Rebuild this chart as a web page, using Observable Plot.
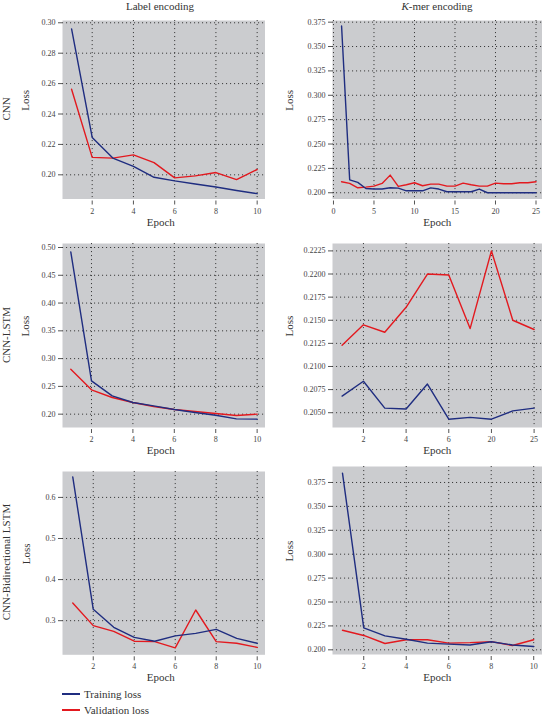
<!DOCTYPE html>
<html><head><meta charset="utf-8">
<script src="https://cdn.jsdelivr.net/npm/d3@7"></script>
<script src="https://cdn.jsdelivr.net/npm/@observablehq/plot@0.6"></script>
<style>
body{margin:0;background:#fff;}
#root{position:relative;width:544px;height:717px;overflow:hidden;font-family:"Liberation Serif","DejaVu Serif",serif;color:#333;background:#fff;}
#root svg{position:absolute;overflow:visible;}
.t{position:absolute;font-size:11px;white-space:nowrap;transform:translate(-50%,-50%);}
.r{position:absolute;font-size:11px;white-space:nowrap;transform:translate(-50%,-50%) rotate(-90deg);}
.lg{position:absolute;font-size:11px;line-height:12px;white-space:nowrap;transform:translateY(-50%);}
.ll{position:absolute;width:18px;height:1.5px;}
</style></head><body><div id="root"></div>
<script>
// ---- data ----
const epochs10 = [1,2,3,4,5,6,7,8,9,10];
const epochs25 = d3.range(1, 26);
const seriesNames = ["Training loss", "Validation loss"];
const seriesColors = ["#1f2d80", "#e3191f"];
const columnTitles = ["Label encoding", "K-mer encoding"];
const rowTitles = ["CNN", "CNN-LSTM", "CNN-Bidirectional LSTM"];

const cnnLabelTrain = [0.296, 0.2246, 0.211, 0.2056, 0.1984, 0.196, 0.194, 0.192, 0.1897, 0.1876];
const cnnLabelVal   = [0.2563, 0.2115, 0.211, 0.2131, 0.208, 0.198, 0.1993, 0.2015, 0.1969, 0.2035];

const cnnKmerTrain = [0.371, 0.2133, 0.2106, 0.2044, 0.2038, 0.2038, 0.2051, 0.2048, 0.202, 0.202,
                      0.202, 0.205, 0.2038, 0.201, 0.201, 0.201, 0.201, 0.2038, 0.200, 0.200,
                      0.200, 0.200, 0.200, 0.200, 0.200];
const cnnKmerVal   = [0.2113, 0.2096, 0.2051, 0.2058, 0.2068, 0.2096, 0.2181, 0.2065, 0.2082, 0.2103,
                      0.2072, 0.2089, 0.2089, 0.2068, 0.2068, 0.2099, 0.2082, 0.2068, 0.2068, 0.2099,
                      0.2092, 0.2092, 0.2103, 0.2103, 0.2113];

const lstmLabelTrain = [0.4922, 0.26, 0.233, 0.221, 0.215, 0.2084, 0.203, 0.198, 0.1916, 0.191];
const lstmLabelVal   = [0.281, 0.2438, 0.23, 0.221, 0.2138, 0.2084, 0.2048, 0.2012, 0.1976, 0.200];

const lstmKmerTrain = [0.2068, 0.2084, 0.2055, 0.2054, 0.2081, 0.2043, 0.2045, 0.2043, 0.2052, 0.2055];
const lstmKmerVal   = [0.2123, 0.2145, 0.2137, 0.2164, 0.2200, 0.2199, 0.2141, 0.2225, 0.2150, 0.2140];
const lstmKmerTickLabels = ["2", "4", "6", "20", "25"];

const bilstmLabelTrain = [0.650, 0.3276, 0.284, 0.2595, 0.250, 0.263, 0.269, 0.279, 0.257, 0.245];
const bilstmLabelVal   = [0.343, 0.288, 0.274, 0.250, 0.249, 0.234, 0.326, 0.249, 0.245, 0.235];

const bilstmKmerTrain = [0.3848, 0.223, 0.2146, 0.211, 0.207, 0.206, 0.205, 0.2085, 0.205, 0.2035];
const bilstmKmerVal   = [0.2205, 0.215, 0.2066, 0.2105, 0.2105, 0.207, 0.2075, 0.2085, 0.2045, 0.2105];

const ticks10 = [2,4,6,8,10];
const ticks25 = [0,5,10,15,20,25];

// ---- panels ----
const panels = [
  {ep: epochs10, tr: cnnLabelTrain, va: cnnLabelVal, g:[62,264.5,20,198.5], xd:[0.56,10.38], yd:[0.1841,0.3015],
   xt: ticks10, xf: d3.format("d"), yt: d3.range(0.20,0.3001,0.02), yf: d3.format(".2f"), lossX: 25},
  {ep: epochs25, tr: cnnKmerTrain, va: cnnKmerVal, g:[332,541.5,20,198.5], xd:[-0.12,25.74], yd:[0.1936,0.3767],
   xt: ticks25, xf: d3.format("d"), yt: d3.range(0.200,0.3751,0.025), yf: d3.format(".3f"), lossX: 289},
  {ep: epochs10, tr: lstmLabelTrain, va: lstmLabelVal, g:[62,264.5,242.7,426.7], xd:[0.6,10.38], yd:[0.176,0.5072],
   xt: ticks10, xf: d3.format("d"), yt: d3.range(0.20,0.5001,0.05), yf: d3.format(".2f"), lossX: 25},
  {ep: epochs10, tr: lstmKmerTrain, va: lstmKmerVal, g:[332,541.5,242.7,426.7], xd:[0.55,10.37], yd:[0.2034,0.2233],
   xt: ticks10, xf: (d) => lstmKmerTickLabels[ticks10.indexOf(d)], yt: d3.range(0.2050,0.22251,0.0025), yf: d3.format(".4f"), lossX: 289},
  {ep: epochs10, tr: bilstmLabelTrain, va: bilstmLabelVal, g:[62,264.5,470.7,654], xd:[0.5,10.38], yd:[0.217,0.663],
   xt: ticks10, xf: d3.format("d"), yt: [0.3,0.4,0.5,0.6], yf: d3.format(".1f"), lossX: 26},
  {ep: epochs10, tr: bilstmKmerTrain, va: bilstmKmerVal, g:[332,541.5,466,654], xd:[0.53,10.39], yd:[0.1951,0.3917],
   xt: ticks10, xf: d3.format("d"), yt: d3.range(0.200,0.3751,0.025), yf: d3.format(".3f"), lossX: 289}
];

const root = document.getElementById("root");
const mL = 52, mR = 6, mT = 6, mB = 40, gap = 2;

for (const p of panels) {
  const [gx0, gx1, gy0, gy1] = p.g;
  const w = gx1 - gx0, h = gy1 - gy0;
  const yd = [p.yd[0] - gap * (p.yd[1] - p.yd[0]) / h, p.yd[1]];
  const rows = [];
  p.ep.forEach((e, i) => rows.push({epoch: e, loss: p.va[i], s: seriesNames[1]}));
  p.ep.forEach((e, i) => rows.push({epoch: e, loss: p.tr[i], s: seriesNames[0]}));
  const grid = {stroke: "#3a3a3a", strokeOpacity: 1, strokeWidth: 1, strokeDasharray: "1.1,2.9"};
  const chart = Plot.plot({
    width: w + mL + mR,
    height: h + gap + mT + mB,
    marginLeft: mL, marginRight: mR, marginTop: mT, marginBottom: mB,
    style: {fontFamily: "Liberation Serif, DejaVu Serif, serif", fontSize: "8px", color: "#444", background: "transparent"},
    x: {domain: p.xd},
    y: {domain: yd},
    color: {domain: seriesNames, range: seriesColors},
    marks: [
      Plot.frame({fill: "#cbcccf", stroke: null, insetBottom: gap}),
      Plot.gridX(p.xt, {...grid, insetBottom: gap}),
      Plot.gridY(p.yt, grid),
      Plot.line(rows, {x: "epoch", y: "loss", z: "s", stroke: "s", strokeWidth: 1.4}),
      Plot.axisX(p.xt, {tickSize: 4, tickPadding: 3, tickFormat: p.xf, stroke: "#555", fill: "#444", fontSize: 8, label: null}),
      Plot.axisY(p.yt, {tickSize: 4, tickPadding: 3, tickFormat: p.yf, stroke: "#555", fill: "#444", fontSize: 8, label: null}),
      Plot.text(["Epoch"], {frameAnchor: "bottom", dy: 24.5, dx: gx0 < 100 ? -3 : 0, text: (d) => d, fontSize: 11, fill: "#333"}),
      Plot.text(["Loss"], {frameAnchor: "left", dx: p.lossX - gx0, rotate: -90, text: (d) => d, fontSize: 11, fill: "#333"})
    ]
  });
  chart.style.left = (gx0 - mL) + "px";
  chart.style.top = (gy0 - mT) + "px";
  root.appendChild(chart);
}

// column titles
const ct1 = document.createElement("div");
ct1.className = "t"; ct1.style.left = "160px"; ct1.style.top = "6px";
ct1.textContent = columnTitles[0];
root.appendChild(ct1);
const ct2 = document.createElement("div");
ct2.className = "t"; ct2.style.left = "437px"; ct2.style.top = "6px";
ct2.innerHTML = "<i>K</i>" + columnTitles[1].slice(1);
root.appendChild(ct2);

// row titles
const rowY = [109, 335, 562];
rowTitles.forEach((t, i) => {
  const d = document.createElement("div");
  d.className = "r"; d.style.left = "6px"; d.style.top = rowY[i] + "px";
  d.textContent = t;
  root.appendChild(d);
});

// legend
const legY = [694, 710];
seriesNames.forEach((n, i) => {
  const l = document.createElement("div");
  l.className = "ll"; l.style.left = "62px"; l.style.top = (legY[i] - 0.75) + "px";
  l.style.background = seriesColors[i];
  root.appendChild(l);
  const t = document.createElement("div");
  t.className = "lg"; t.style.left = "84px"; t.style.top = legY[i] + "px";
  t.textContent = n;
  root.appendChild(t);
});
</script></body></html>
